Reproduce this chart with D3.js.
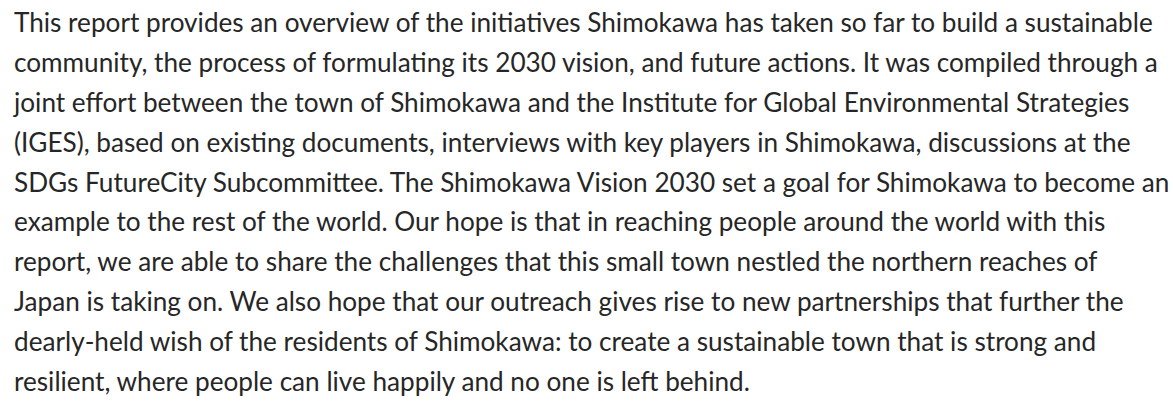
<!DOCTYPE html>
<html>
<head>
<meta charset="utf-8">
<script src="https://cdn.jsdelivr.net/npm/d3@7"></script>
<style>
  html, body { margin: 0; padding: 0; background: #fff; }
  svg { display: block; }
</style>
</head>
<body>
<svg id="main-svg" width="1173" height="401"></svg>
<script>
const WIDTH = 1173;
const HEIGHT = 401;

// paragraph, one entry per printed line
const lines = [
  "This report provides an overview of the initiatives Shimokawa has taken so far to build a sustainable",
  "community, the process of formulating its 2030 vision, and future actions. It was compiled through a",
  "joint effort between the town of Shimokawa and the Institute for Global Environmental Strategies",
  "(IGES), based on existing documents, interviews with key players in Shimokawa, discussions at the",
  "SDGs FutureCity Subcommittee. The Shimokawa Vision 2030 set a goal for Shimokawa to become an",
  "example to the rest of the world. Our hope is that in reaching people around the world with this",
  "report, we are able to share the challenges that this small town nestled the northern reaches of",
  "Japan is taking on. We also hope that our outreach gives rise to new partnerships that further the",
  "dearly-held wish of the residents of Shimokawa: to create a sustainable town that is strong and",
  "resilient, where people can live happily and no one is left behind."
];
const lineIdx = d3.range(lines.length);

const svg = d3.select("#main-svg");

var y = d3.scaleLinear()
  .domain([0, lines.length - 1])
  .range([32.3, 390.7]);

var texts = svg.selectAll("text.line")
  .data(lineIdx)
  .enter()
  .append("text")
  .attr("class", "line")
  .attr("x", 14)
  .attr("y", d => y(d))
  .attr("fill", "#262626")
  .style("font-family", "Lato, sans-serif")
  .style("font-size", "26.67px")
  .text(d => lines[d]);

// last line ends near x=750 in the original, scale the font to that
var wLast = texts.filter(d => d === lines.length - 1).node().getComputedTextLength();
var fs = 26.67 * 736 / wLast;
texts.style("font-size", fs + "px");
</script>
</body>
</html>
